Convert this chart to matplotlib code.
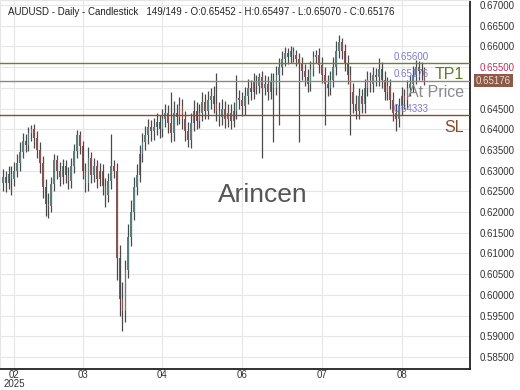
import numpy as np
import matplotlib
matplotlib.use("Agg")
import matplotlib.pyplot as plt

plt.rcParams['font.family'] = ['Liberation Sans', 'DejaVu Sans']

title_text = "AUDUSD - Daily - Candlestick   149/149 - O:0.65452 - H:0.65497 - L:0.65070 - C:0.65176"

opens = [
0.6270,0.6285,0.6270,0.6292,0.6280,0.6300,0.6318,0.6345,0.6372,0.6362,
0.6390,0.6400,0.6378,0.6350,0.6318,0.6260,0.6220,0.6215,0.6268,0.6325,
0.6300,0.6285,0.6310,0.6290,0.6275,0.6312,0.6348,0.6385,0.6360,0.6300,
0.6270,0.6330,0.6290,0.6310,0.6280,0.6300,0.6262,0.6240,0.6275,0.6310,
0.6300,0.6090,0.5990,0.5960,0.6060,0.6140,0.6200,0.6260,0.6290,0.6340,
0.6370,0.6385,0.6405,0.6395,0.6405,0.6418,0.6400,0.6425,0.6440,0.6415,
0.6390,0.6440,0.6430,0.6455,0.6425,0.6395,0.6375,0.6415,0.6445,0.6420,
0.6440,0.6465,0.6445,0.6470,0.6480,0.6460,0.6445,0.6430,0.6450,0.6425,
0.6440,0.6420,0.6445,0.6475,0.6470,0.6455,0.6480,0.6500,0.6490,0.6515,
0.6505,0.6525,0.6500,0.6510,0.6490,0.6515,0.6500,0.6530,0.6550,0.6570,
0.6585,0.6575,0.6590,0.6580,0.6570,0.6560,0.6540,0.6525,0.6510,0.6545,
0.6575,0.6580,0.6555,0.6530,0.6510,0.6500,0.6520,0.6550,0.6590,0.6610,
0.6590,0.6560,0.6530,0.6490,0.6460,0.6445,0.6480,0.6460,0.6500,0.6520,
0.6510,0.6530,0.6525,0.6545,0.6520,0.6490,0.6505,0.6470,0.6440,0.6425,
0.6455,0.6480,0.6470,0.6500,0.6510,0.6530,0.6550,0.6540,0.65452]

highs = [
0.6305,0.6300,0.6312,0.6310,0.6322,0.6340,0.6368,0.6392,0.6388,0.6405,
0.6410,0.6412,0.6395,0.6368,0.6335,0.6280,0.6245,0.6285,0.6340,0.6338,
0.6322,0.6328,0.6325,0.6308,0.6330,0.6365,0.6398,0.6395,0.6372,0.6318,
0.6358,0.6345,0.6330,0.6325,0.6318,0.6315,0.6282,0.6295,0.6388,0.6325,
0.6318,0.6120,0.6030,0.6085,0.6170,0.6230,0.6285,0.6315,0.6362,0.6392,
0.6408,0.6425,0.6422,0.6428,0.6440,0.6435,0.6448,0.6462,0.6458,0.6490,
0.6468,0.6462,0.6478,0.6472,0.6445,0.6418,0.6438,0.6470,0.6465,0.6462,
0.6490,0.6485,0.6492,0.6500,0.6505,0.6536,0.6465,0.6472,0.6468,0.6460,
0.6462,0.6465,0.6530,0.6495,0.6490,0.6502,0.6522,0.6520,0.6535,0.6532,
0.6536,0.6540,0.6530,0.6528,0.6535,0.6535,0.6552,0.6572,0.6590,0.6598,
0.6596,0.6600,0.6598,0.6592,0.6585,0.6575,0.6558,0.6545,0.6565,0.6590,
0.6592,0.6595,0.6575,0.6550,0.6530,0.6540,0.6575,0.6612,0.6628,0.6620,
0.6605,0.6580,0.6552,0.6512,0.6482,0.6500,0.6498,0.6522,0.6540,0.6538,
0.6550,0.6548,0.6572,0.6562,0.6540,0.6525,0.6522,0.6490,0.6460,0.6475,
0.6502,0.6498,0.6520,0.6530,0.6552,0.6568,0.6565,0.6562,0.65497]

lows = [
0.6250,0.6248,0.6255,0.6240,0.6262,0.6285,0.6300,0.6330,0.6345,0.6348,
0.6372,0.6355,0.6330,0.6295,0.6235,0.6190,0.6185,0.6200,0.6250,0.6280,
0.6262,0.6268,0.6270,0.6255,0.6258,0.6295,0.6330,0.6340,0.6280,0.6248,
0.6252,0.6270,0.6272,0.6258,0.6262,0.6240,0.6212,0.6225,0.6255,0.6282,
0.6035,0.5950,0.5912,0.5935,0.6040,0.6118,0.6180,0.6240,0.6272,0.6320,
0.6350,0.6365,0.6372,0.6375,0.6385,0.6378,0.6380,0.6405,0.6392,0.6368,
0.6372,0.6410,0.6412,0.6400,0.6372,0.6357,0.6355,0.6395,0.6400,0.6402,
0.6420,0.6425,0.6425,0.6450,0.6440,0.6420,0.6408,0.6410,0.6402,0.6405,
0.6400,0.6405,0.6425,0.6450,0.6432,0.6435,0.6460,0.6470,0.6472,0.6485,
0.6488,0.6330,0.6482,0.6470,0.6472,0.6370,0.6482,0.6410,0.6532,0.6552,
0.6558,0.6560,0.6562,0.6552,0.6368,0.6520,0.6505,0.6490,0.6492,0.6528,
0.6560,0.6535,0.6512,0.6410,0.6480,0.6482,0.6502,0.6532,0.6572,0.6570,
0.6540,0.6510,0.6385,0.6440,0.6425,0.6425,0.6440,0.6440,0.6480,0.6490,
0.6490,0.6505,0.6505,0.6500,0.6470,0.6470,0.6450,0.6420,0.6395,0.6405,
0.6435,0.6450,0.6450,0.6480,0.6490,0.6510,0.6520,0.6518,0.65070]

closes = [
0.6285,0.6270,0.6292,0.6280,0.6300,0.6318,0.6345,0.6372,0.6362,0.6390,
0.6400,0.6378,0.6350,0.6318,0.6260,0.6220,0.6215,0.6268,0.6325,0.6300,
0.6285,0.6310,0.6290,0.6275,0.6312,0.6348,0.6385,0.6360,0.6300,0.6270,
0.6330,0.6290,0.6310,0.6280,0.6300,0.6262,0.6240,0.6275,0.6310,0.6300,
0.6090,0.5990,0.5960,0.6060,0.6140,0.6200,0.6260,0.6290,0.6340,0.6370,
0.6385,0.6405,0.6395,0.6405,0.6418,0.6400,0.6425,0.6440,0.6415,0.6390,
0.6440,0.6430,0.6455,0.6425,0.6395,0.6375,0.6415,0.6445,0.6420,0.6440,
0.6465,0.6445,0.6470,0.6480,0.6460,0.6445,0.6430,0.6450,0.6425,0.6440,
0.6420,0.6445,0.6475,0.6470,0.6455,0.6480,0.6500,0.6490,0.6515,0.6505,
0.6525,0.6500,0.6510,0.6490,0.6515,0.6500,0.6530,0.6550,0.6570,0.6585,
0.6575,0.6590,0.6580,0.6570,0.6560,0.6540,0.6525,0.6510,0.6545,0.6575,
0.6580,0.6555,0.6530,0.6510,0.6500,0.6520,0.6550,0.6590,0.6610,0.6590,
0.6560,0.6530,0.6490,0.6460,0.6445,0.6480,0.6460,0.6500,0.6520,0.6510,
0.6530,0.6525,0.6545,0.6520,0.6490,0.6505,0.6470,0.6440,0.6425,0.6455,
0.6480,0.6470,0.6500,0.6510,0.6530,0.6550,0.6540,0.6545,0.65176]

month_tick_bars = [4, 28, 56, 84, 112, 140]
month_tick_labels = ["02\n2025", "03", "04", "06", "07", "08"]

tp1_price = 0.65600
at_price = 0.65176
sl_price = 0.64333
ytick_values = [0.585, 0.590, 0.595, 0.600, 0.605, 0.610, 0.615, 0.620, 0.625,
                0.630, 0.635, 0.640, 0.645, 0.650, 0.655, 0.660, 0.665, 0.670]

fig = plt.figure(figsize=(5.2, 3.9), dpi=100)
ax = fig.add_axes([0.0, 21/390, 470/520, 369/390])

o = np.array(opens); h = np.array(highs); l = np.array(lows); c = np.array(closes)
x = np.arange(len(c))
up = c >= o
wick = '#4a4a4a'
body_colors = np.where(up, '#587f7c', '#8a5252')

ax.vlines(x, l, h, color=wick, lw=0.9, zorder=3)
bottoms = np.minimum(o, c)
heights = np.maximum(np.abs(c - o), 0.0002)
ax.bar(x, heights, bottom=bottoms, width=0.55, color=body_colors, edgecolor='none', zorder=4)

ax.set_xlim(-1, 164)
ax.set_ylim(0.5821, 0.6712)

ax.set_yticks(ytick_values)
ax.set_xticks(month_tick_bars)
ax.grid(True, color='#e6e6e6', lw=0.8, zorder=0)
ax.set_axisbelow(True)

ax.yaxis.tick_right()
ax.set_yticklabels([f"{v:.5f}" for v in ytick_values])
ax.set_xticklabels(month_tick_labels)
ax.tick_params(axis='y', length=0, labelsize=7, pad=7, colors='#333333')
ax.tick_params(axis='x', length=0, labelsize=7, pad=1, colors='#333333')
for lbl in ax.get_xticklabels():
    lbl.set_linespacing(0.8)
for lbl, v in zip(ax.get_yticklabels(), ytick_values):
    if abs(v - 0.655) < 1e-9:
        lbl.set_color('#c0305a')
    if abs(v - 0.650) < 1e-9:
        lbl.set_alpha(0.0)

for s in ['left', 'top']:
    ax.spines[s].set_color('#e6e6e6')
    ax.spines[s].set_linewidth(0.8)
ax.spines['right'].set_color('#222222')
ax.spines['right'].set_linewidth(1.3)
ax.spines['bottom'].set_color('#222222')
ax.spines['bottom'].set_linewidth(1.3)

ax.axhline(tp1_price, color='#6f7f2c', lw=1.0, zorder=5)
ax.axhline(at_price, color='#8a8a80', lw=1.0, zorder=5)
ax.axhline(sl_price, color='#8b4a2a', lw=1.0, zorder=5)

lab_col = '#7b7bd0'
ax.text(137.3, tp1_price + 0.0003, f"{tp1_price:.5f}", color=lab_col, fontsize=7, va='bottom', ha='left', zorder=6)
ax.text(137.3, at_price + 0.0003, f"{at_price:.5f}", color=lab_col, fontsize=7, va='bottom', ha='left', zorder=6)
ax.text(137.3, sl_price + 0.0003, f"{sl_price:.5f}", color=lab_col, fontsize=7, va='bottom', ha='left', zorder=6)

ax.text(161.8, tp1_price - 0.0010, "TP1", color='#5f7a22', fontsize=11.5, va='top', ha='right', zorder=6)
ax.text(161.8, at_price - 0.0011, "At Price", color='#8a8a8a', fontsize=11.5, va='top', ha='right', zorder=6)
ax.text(161.8, sl_price - 0.0010, "SL", color='#8b4a2a', fontsize=11.5, va='top', ha='right', zorder=6)

ax.text(91.3, 0.6242, "Arincen", color='#555555', fontsize=19, ha='center', va='center', zorder=7)

fig.text(8/520, 1 - 12/390, title_text, fontsize=7, color='#222222', ha='left', va='center')

ax.text(1.012, at_price, f"{at_price:.5f}", transform=ax.get_yaxis_transform(),
        fontsize=7, color='#f3d9cc', ha='left', va='center', zorder=8,
        bbox=dict(boxstyle='square,pad=0.2', fc='#8b5a48', ec='none'))

fig.savefig("out.png", dpi=100)
